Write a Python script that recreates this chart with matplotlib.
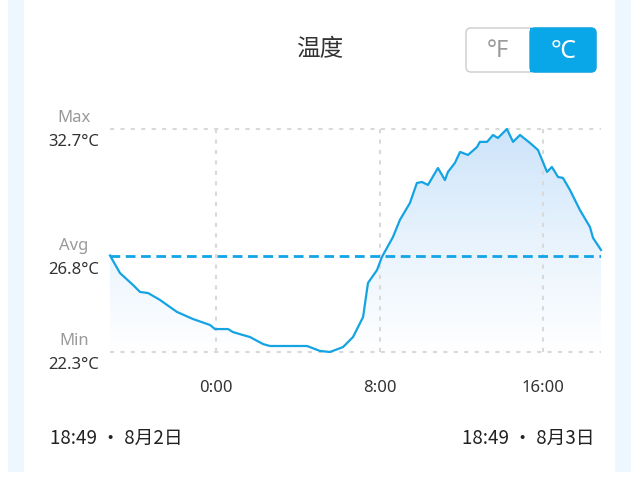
import numpy as np
import matplotlib.pyplot as plt
from matplotlib.patches import Rectangle, FancyBboxPatch
from matplotlib.colors import LinearSegmentedColormap

plt.rcParams['font.family'] = ['Noto Sans', 'Noto Sans CJK SC', 'DejaVu Sans']

# 数据：从 18:49 起算的小时数，温度 (°C)
hours = [0, 0.49, 1.12, 1.47, 1.86, 2.44, 3.27, 4.05, 4.89, 5.13, 5.77, 6.01,
         6.50, 6.84, 7.48, 7.82, 9.63, 10.26, 10.75, 11.39, 11.88, 12.37, 12.61,
         13.05, 13.29, 13.83, 14.17, 14.66, 15.0, 15.25, 15.54, 16.03, 16.37,
         16.52, 16.86, 17.11, 17.5, 17.94, 18.08, 18.43, 18.72, 18.96, 19.4,
         19.7, 20.04, 20.53, 20.92, 21.36, 21.6, 21.9, 22.14, 22.48, 22.97,
         23.46, 23.61, 24.0]
temps = [26.8, 25.98, 25.43, 25.10, 25.05, 24.73, 24.17, 23.84, 23.56, 23.37,
         23.37, 23.23, 23.09, 23.0, 22.67, 22.58, 22.58, 22.35, 22.3, 22.53,
         23.0, 23.93, 25.52, 26.12, 26.73, 27.66, 28.46, 29.25, 30.18, 30.23,
         30.09, 30.88, 30.32, 30.7, 31.12, 31.63, 31.49, 31.86, 32.1, 32.1,
         32.42, 32.28, 32.7, 32.1, 32.42, 32.05, 31.72, 30.7, 30.93, 30.46,
         30.42, 29.86, 28.92, 28.13, 27.62, 27.06]
t_max, t_avg, t_min = 32.7, 26.8, 22.3
tick_hours = [5.18, 13.18, 21.18]
tick_labels = ['0:00', '8:00', '16:00']
start_label = '18:49 · 8月2日'
end_label = '18:49 · 8月3日'

W, H = 639, 480
fig = plt.figure(figsize=(W / 100, H / 100), dpi=100)

# 背景（像素坐标）
bg = fig.add_axes([0, 0, 1, 1])
bg.set_xlim(0, W)
bg.set_ylim(H, 0)
bg.axis('off')
bg.add_patch(Rectangle((8, 0), 16, 472, color='#eef6fe', lw=0))
bg.add_patch(Rectangle((615, 0), 16, 472, color='#eef6fe', lw=0))
bg.text(320, 50, '温度', ha='center', va='center', fontsize=17, color='#333333')

# 温度单位按钮
bg.add_patch(FancyBboxPatch((466, 28), 130, 44, boxstyle='round,pad=0,rounding_size=5',
                            fc='white', ec='#cccccc', lw=1))
bg.add_patch(FancyBboxPatch((530, 28), 66, 44, boxstyle='round,pad=0,rounding_size=5',
                            fc='#0aa7e8', ec='#0aa7e8', lw=1))
bg.add_patch(Rectangle((530, 28), 10, 44, color='#0aa7e8', lw=0))
bg.text(498, 51, '°F', ha='center', va='center', fontsize=17, color='#9a9a9a',
        fontweight='light')
bg.text(563, 51, '℃', ha='center', va='center', fontsize=18, color='white',
        fontweight='light')

# 左侧标签
for name, val, y in [('Max', t_max, 129), ('Avg', t_avg, 257), ('Min', t_min, 352)]:
    bg.text(74, y - 11, name, ha='center', va='center', fontsize=12, color='#999999')
    bg.text(74, y + 13, f'{val}°C', ha='center', va='center', fontsize=12, color='#333333')

cjk = ['Noto Sans CJK SC', 'DejaVu Sans']
bg.text(50, 438, start_label, ha='left', va='center', fontsize=13.5, color='#222222',
        family=cjk)
bg.text(594, 438, end_label, ha='right', va='center', fontsize=13.5, color='#222222',
        family=cjk)

# 图表
ax = fig.add_axes([110 / W, (H - 352) / H, 491 / W, 223 / H])
ax.set_xlim(0, 24)
ax.set_ylim(t_min, t_max)
ax.axis('off')

grid_kw = dict(color='#d9d9d9', lw=1.5, dashes=(2, 3), zorder=1, clip_on=False)
ax.axhline(t_max, **grid_kw)
ax.axhline(t_min, **grid_kw)
for h, lab in zip(tick_hours, tick_labels):
    ax.plot([h, h], [t_min, t_max], **grid_kw)
    ax.text(h, t_min - 1.7, lab, ha='center', va='center', fontsize=12, color='#333333')

# 渐变填充
cmap = LinearSegmentedColormap.from_list('fill', ['#ffffff', '#e8f3fd', '#cde4fa'])
grad = np.linspace(0, 1, 256).reshape(-1, 1)
img = ax.imshow(grad, cmap=cmap, aspect='auto', origin='lower',
                extent=[0, 24, t_min, t_max], zorder=0)
poly = ax.fill_between(hours, temps, t_min, color='none', lw=0)
img.set_clip_path(poly.get_paths()[0], transform=ax.transData)

ax.plot(hours, temps, color='#14a3e3', lw=1.6, zorder=3, clip_on=False)
ax.axhline(t_avg, color='#12a4e6', lw=2, dashes=(3.5, 2), zorder=4)

fig.savefig('out.png', dpi=100)
